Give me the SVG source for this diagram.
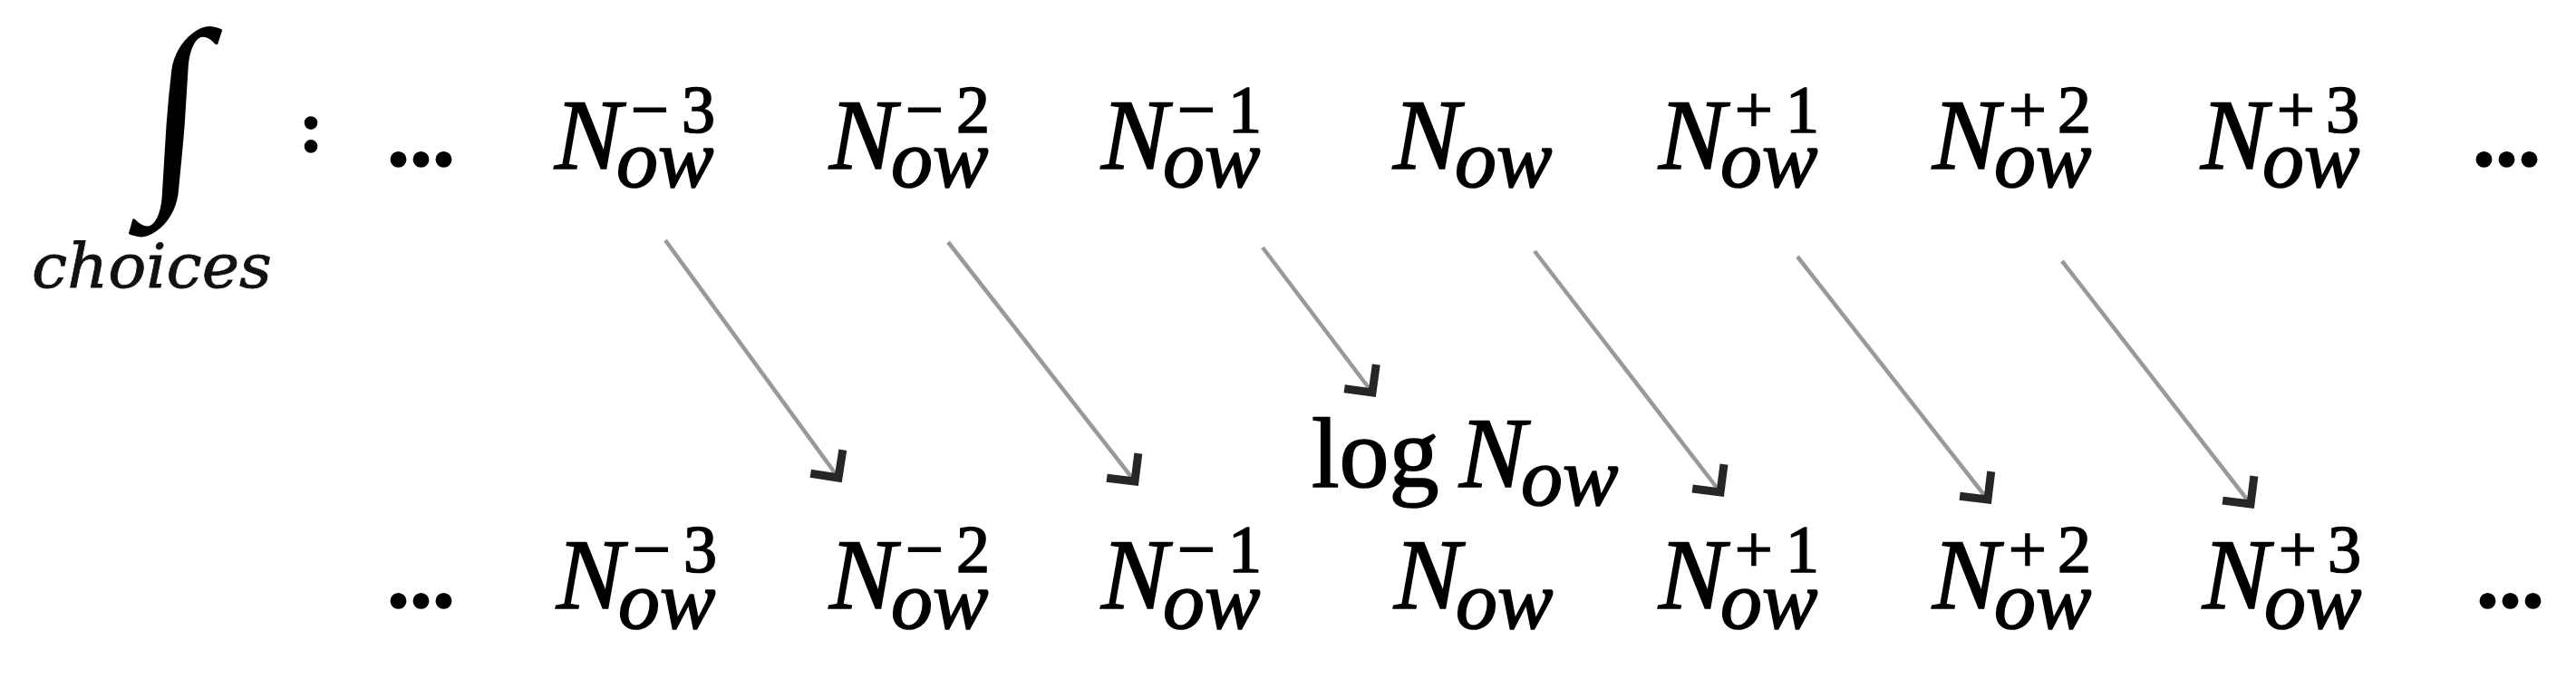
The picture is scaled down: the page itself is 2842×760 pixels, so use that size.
<svg xmlns="http://www.w3.org/2000/svg" width="2842" height="760" viewBox="0 0 2842 760">
<style>
.t{font-family:"Liberation Serif","DejaVu Serif",serif;fill:#000;stroke:#000;stroke-width:1.7px;}
.n{font-size:110px;font-style:italic;}
.sub{font-size:92px;font-style:italic;}
.sup{font-size:74px;font-style:normal;}
.up{font-style:normal;}
.dots{font-size:100px;font-weight:bold;}
.arrow{stroke:#999;stroke-width:4.5;fill:none;marker-end:url(#ah);}
</style>
<defs>
<marker id="ah" markerUnits="userSpaceOnUse" markerWidth="50" markerHeight="60" viewBox="-40 -30 50 60" refX="0" refY="0" orient="auto">
<path d="M-22,-22 L0,0 L-22,22" fill="none" stroke="#262626" stroke-width="9"/>
</marker>
</defs>
<rect width="2842" height="760" fill="#fff"/>
<g id="integral">
<text class="t" transform="translate(190,198) skewX(-4) scale(1,1.02)" x="0" y="0" font-size="232" text-anchor="middle" style="stroke-width:0">∫</text>
<text x="35" y="317" font-family="DejaVu Serif, Liberation Serif, serif" font-size="68" font-style="italic" fill="#111" stroke="#111" stroke-width="0.8" textLength="265" lengthAdjust="spacingAndGlyphs">choices</text>
</g>
<g id="colon"><text class="t" x="330" y="167" font-size="80" font-weight="bold">:</text></g>
<g id="top-dots-left"><text class="t dots" x="427" y="183">...</text></g>
<g id="top-n-3"><text class="t n" x="612" y="186">N<tspan class="sub" x="680" y="206">ow</tspan><tspan class="sup" x="696" y="146">−</tspan><tspan class="sup" x="752" y="146">3</tspan></text></g>
<g id="top-n-2"><text class="t n" x="915" y="186">N<tspan class="sub" x="983" y="206">ow</tspan><tspan class="sup" x="999" y="146">−</tspan><tspan class="sup" x="1055" y="146">2</tspan></text></g>
<g id="top-n-1"><text class="t n" x="1215" y="186">N<tspan class="sub" x="1283" y="206">ow</tspan><tspan class="sup" x="1299" y="146">−</tspan><tspan class="sup" x="1355" y="146">1</tspan></text></g>
<g id="top-n0"><text class="t n" x="1537" y="186">N<tspan class="sub" x="1605" y="206">ow</tspan></text></g>
<g id="top-n+1"><text class="t n" x="1830" y="186">N<tspan class="sub" x="1898" y="206">ow</tspan><tspan class="sup" x="1914" y="146">+</tspan><tspan class="sup" x="1970" y="146">1</tspan></text></g>
<g id="top-n+2"><text class="t n" x="2132" y="186">N<tspan class="sub" x="2200" y="206">ow</tspan><tspan class="sup" x="2216" y="146">+</tspan><tspan class="sup" x="2270" y="146">2</tspan></text></g>
<g id="top-n+3"><text class="t n" x="2428" y="186">N<tspan class="sub" x="2496" y="206">ow</tspan><tspan class="sup" x="2512" y="146">+</tspan><tspan class="sup" x="2566" y="146">3</tspan></text></g>
<g id="top-dots-right"><text class="t dots" x="2728" y="183">...</text></g>
<g id="log-now"><text class="t n up" x="1447" y="537">log<tspan class="n" x="1610" y="537">N</tspan><tspan class="sub" x="1678" y="557">ow</tspan></text></g>
<g id="bottom-dots-left"><text class="t dots" x="427" y="670">...</text></g>
<g id="bottom-n-3"><text class="t n" x="614" y="671">N<tspan class="sub" x="682" y="693">ow</tspan><tspan class="sup" x="698" y="631">−</tspan><tspan class="sup" x="754" y="631">3</tspan></text></g>
<g id="bottom-n-2"><text class="t n" x="915" y="671">N<tspan class="sub" x="983" y="693">ow</tspan><tspan class="sup" x="999" y="631">−</tspan><tspan class="sup" x="1055" y="631">2</tspan></text></g>
<g id="bottom-n-1"><text class="t n" x="1215" y="671">N<tspan class="sub" x="1283" y="693">ow</tspan><tspan class="sup" x="1299" y="631">−</tspan><tspan class="sup" x="1355" y="631">1</tspan></text></g>
<g id="bottom-n0"><text class="t n" x="1538" y="671">N<tspan class="sub" x="1606" y="693">ow</tspan></text></g>
<g id="bottom-n+1"><text class="t n" x="1830" y="671">N<tspan class="sub" x="1898" y="693">ow</tspan><tspan class="sup" x="1914" y="631">+</tspan><tspan class="sup" x="1970" y="631">1</tspan></text></g>
<g id="bottom-n+2"><text class="t n" x="2132" y="671">N<tspan class="sub" x="2200" y="693">ow</tspan><tspan class="sup" x="2216" y="631">+</tspan><tspan class="sup" x="2270" y="631">2</tspan></text></g>
<g id="bottom-n+3"><text class="t n" x="2430" y="671">N<tspan class="sub" x="2498" y="693">ow</tspan><tspan class="sup" x="2514" y="631">+</tspan><tspan class="sup" x="2568" y="631">3</tspan></text></g>
<g id="bottom-dots-right"><text class="t dots" x="2732" y="670">...</text></g>
<g id="connectors">
<path class="arrow" d="M734,265 L925,527"/>
<path class="arrow" d="M1046,267 L1252,531"/>
<path class="arrow" d="M1393,273 L1514,433"/>
<path class="arrow" d="M1693,277 L1898,543"/>
<path class="arrow" d="M1983,283 L2193,551"/>
<path class="arrow" d="M2275,288 L2483,556"/>
</g>
</svg>
